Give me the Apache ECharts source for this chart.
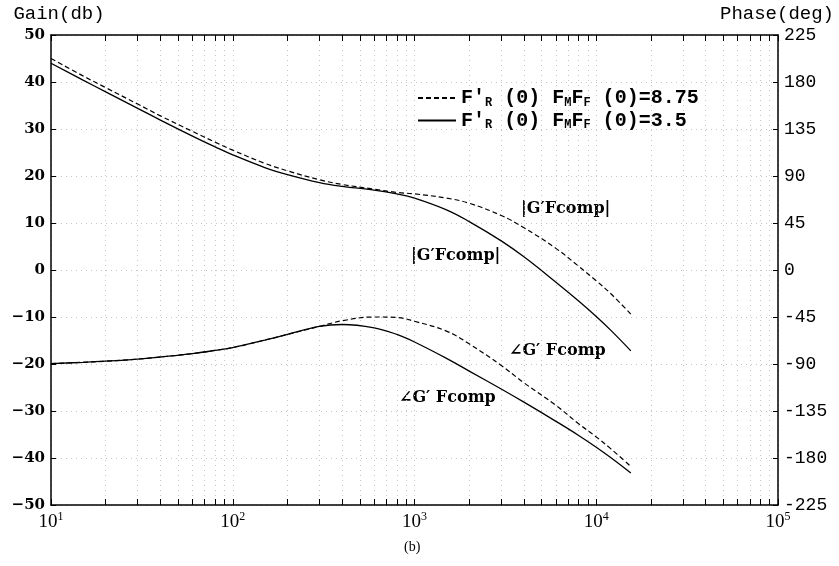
<!DOCTYPE html>
<html>
<head>
<meta charset="utf-8">
<script src="https://cdn.jsdelivr.net/npm/echarts@6/dist/echarts.min.js"></script>
<style>
	html, body { margin: 0; padding: 0; background: #fff; }
	#bode { width: 839px; height: 566px; }
</style>
</head>
<body>
<div id="bode"></div>
<script>
	// frequency points
	const freq = [10, 15, 20, 30, 40, 60, 80, 100, 150, 200, 300, 400, 600, 800, 1000, 1500, 2000, 3000, 4000, 6000, 8000, 10000, 12000, 15500];
	// |G'Fcomp| (db), F'R(0)FMFF(0)=8.75 (dashed) and =3.5 (solid)
	const gainHigh = [45.0, 41.3, 38.8, 35.3, 32.8, 29.5, 27.2, 25.5, 22.7, 21.1, 19.2, 18.2, 17.2, 16.5, 16.2, 15.3, 14.2, 11.6, 9.0, 4.6, 0.8, -2.3, -5.0, -9.4];
	const gainLow = [44.0, 40.4, 37.9, 34.4, 31.9, 28.5, 26.2, 24.5, 21.8, 20.3, 18.6, 17.8, 17.0, 16.2, 15.3, 12.8, 10.3, 6.2, 2.8, -2.6, -6.6, -9.9, -12.8, -17.2];
	// angle G'Fcomp (deg)
	const phaseHigh = [-89.6, -88.4, -87.3, -85.3, -83.3, -80.1, -77.0, -74.3, -67.1, -61.7, -54.0, -48.6, -45.0, -45.5, -49.1, -58.5, -70.7, -91.4, -108.0, -129.6, -147.2, -159.8, -171.0, -188.1];
	const phaseLow = [-89.6, -88.4, -87.3, -85.3, -83.3, -80.1, -77.0, -74.3, -67.1, -61.7, -54.0, -52.2, -55.4, -61.7, -68.9, -84.6, -96.8, -113.9, -126.5, -144.9, -158.4, -169.7, -179.6, -194.4];
	// decade exponents on the frequency axis
	const decades = [1, 2, 3, 4, 5];
	const nameHigh = "F′R(0)FMFF(0)=8.75";
	const nameLow = "F′R(0)FMFF(0)=3.5";

	function pairs(ys) {
		return freq.map((f, i) => [f, ys[i]]);
	}

	// tick spots 1..9 x 10^n, in log10 units
	let tickPos = [];
	decades.forEach((e) => {
		if(e === 5) {
			tickPos.push(5);
			return;
		}
		for(let m = 1; m <= 9; m++) {
			tickPos.push(e + Math.log10(m));
		}
	});

	const black = '#000';
	const gridLine = { color: '#c4c4c4', width: 1, type: [1, 4] };
	const serifBold = 'bold 16px "DejaVu Serif"';

	let bode = echarts.init(document.getElementById('bode'));
	const option = {
		animation: false,
		backgroundColor: '#fff',
		grid: {
			left: 51,
			right: 61,
			top: 35,
			bottom: 61,
			containLabel: false,
			outerBoundsMode: 'none'
		},
		legend: {
			orient: 'vertical',
			left: 412,
			top: 83,
			itemWidth: 38,
			itemHeight: 12,
			itemGap: 2,
			selectedMode: false,
			data: [nameHigh, nameLow],
			itemStyle: { color: 'rgba(0,0,0,0)', borderWidth: 0, opacity: 0 },
			formatter: function(name) {
				let val = name.split('=')[1];
				return '{t|F′}{s|R}{t| (0) F}{s|M}{t|F}{s|F}{t| (0)=' + val + '}';
			},
			textStyle: {
				color: black,
				rich: {
					t: { fontFamily: 'Liberation Mono', fontWeight: 'bold', fontSize: 20, color: black },
					s: { fontFamily: 'Liberation Mono', fontWeight: 'bold', fontSize: 12, color: black, padding: [9, 0, 0, 0] }
				}
			}
		},
		xAxis: [{
				type: 'log',
				logBase: 10,
				min: 10,
				max: 100000,
				show: false
			},
			{
				type: 'value',
				min: 1,
				max: 5,
				interval: 1,
				position: 'bottom',
				axisLine: { show: true, onZero: false, lineStyle: { color: black, width: 1.5 } },
				axisTick: { show: true, inside: true, length: 6, customValues: tickPos, lineStyle: { color: black } },
				axisLabel: {
					margin: 6,
					formatter: function(v) {
						return '{b|10}{s|' + v + '}';
					},
					rich: {
						b: { fontFamily: 'Liberation Serif', fontSize: 19, color: black },
						s: { fontFamily: 'Liberation Serif', fontSize: 12, color: black, padding: [0, 0, 10, 0] }
					}
				},
				splitLine: { show: true, lineStyle: gridLine }
			},
			{
				type: 'value',
				min: 1,
				max: 5,
				position: 'top',
				axisLine: { show: true, onZero: false, lineStyle: { color: black, width: 1.5 } },
				axisTick: { show: true, inside: true, length: 6, customValues: tickPos, lineStyle: { color: black } },
				axisLabel: { show: false },
				splitLine: { show: false }
			}
		],
		yAxis: [{
				type: 'value',
				min: -50,
				max: 50,
				interval: 10,
				position: 'left',
				name: 'Gain(db)',
				nameLocation: 'end',
				nameGap: 12,
				nameTextStyle: { fontFamily: 'Liberation Mono', fontSize: 19, color: black, align: 'center', padding: [0, 0, 0, 16] },
				axisLine: { show: true, onZero: false, lineStyle: { color: black, width: 1.5 } },
				axisTick: { show: true, inside: true, length: 5, lineStyle: { color: black } },
				axisLabel: {
					margin: 6,
					fontFamily: 'DejaVu Serif',
					fontWeight: 'bold',
					fontSize: 15,
					color: black,
					formatter: function(v) {
						return String(v).replace('-', '\u2212');
					}
				},
				splitLine: { show: true, lineStyle: gridLine }
			},
			{
				type: 'value',
				min: -225,
				max: 225,
				interval: 45,
				position: 'right',
				name: 'Phase(deg)',
				nameLocation: 'end',
				nameGap: 12,
				nameTextStyle: { fontFamily: 'Liberation Mono', fontSize: 19, color: black, align: 'right', padding: [0, -56, 0, 0] },
				axisLine: { show: true, onZero: false, lineStyle: { color: black, width: 1.5 } },
				axisTick: { show: true, inside: true, length: 5, lineStyle: { color: black } },
				axisLabel: { margin: 6, fontFamily: 'Liberation Mono', fontSize: 18, color: black },
				splitLine: { show: false }
			}
		],
		series: [{
				name: nameHigh,
				type: 'line',
				xAxisIndex: 0,
				yAxisIndex: 0,
				color: black,
				symbol: 'none',
				smooth: 0.4,
				lineStyle: { color: black, width: 1.2, type: [5, 3] },
				data: pairs(gainHigh)
			},
			{
				name: nameLow,
				type: 'line',
				xAxisIndex: 0,
				yAxisIndex: 0,
				color: black,
				symbol: 'none',
				smooth: 0.4,
				lineStyle: { color: black, width: 1.3 },
				data: pairs(gainLow)
			},
			{
				name: nameHigh,
				type: 'line',
				xAxisIndex: 0,
				yAxisIndex: 1,
				color: black,
				symbol: 'none',
				smooth: 0.4,
				lineStyle: { color: black, width: 1.2, type: [5, 3] },
				data: pairs(phaseHigh)
			},
			{
				name: nameLow,
				type: 'line',
				xAxisIndex: 0,
				yAxisIndex: 1,
				color: black,
				symbol: 'none',
				smooth: 0.4,
				lineStyle: { color: black, width: 1.3 },
				data: pairs(phaseLow)
			}
		],
		graphic: [
			{ type: 'text', left: 521, top: 201, style: { text: '|G′Fcomp|', font: serifBold, fill: black } },
			{ type: 'text', left: 411, top: 248, style: { text: '|G′Fcomp|', font: serifBold, fill: black } },
			{ type: 'text', left: 509, top: 343, style: { text: '∠G′ Fcomp', font: serifBold, fill: black } },
			{ type: 'text', left: 399, top: 390, style: { text: '∠G′ Fcomp', font: serifBold, fill: black } },
			{ type: 'text', left: 404, top: 540, style: { text: '(b)', font: '14px "Liberation Serif"', fill: black } }
		]
	};
	bode.setOption(option);
	window.addEventListener('resize', function() {
		bode.resize();
	});
</script>
</body>
</html>
